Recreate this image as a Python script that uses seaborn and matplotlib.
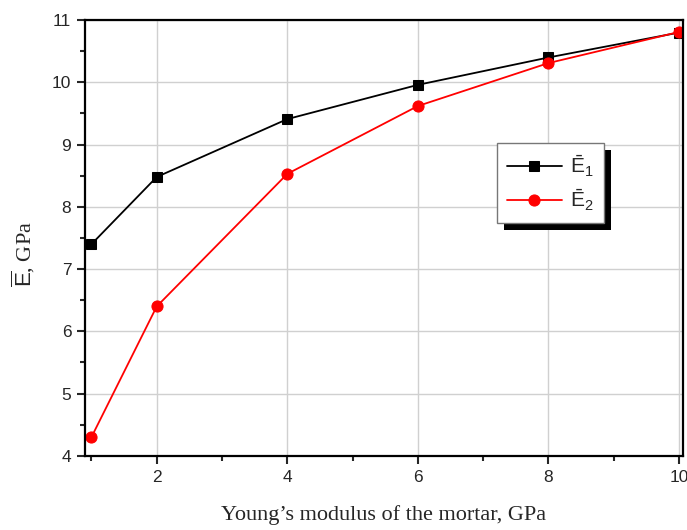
import seaborn as sns
import numpy as np
import pandas as pd
import matplotlib.pyplot as plt
import matplotlib.patheffects as pe
from matplotlib.ticker import MultipleLocator

# 데이터
modulus = [1, 2, 4, 6, 8, 10]
e1 = [7.4, 8.48, 9.41, 9.96, 10.4, 10.8]
e2 = [4.3, 6.4, 8.53, 9.62, 10.31, 10.81]

sns.set_style('ticks')
plt.rcParams['font.family'] = ['Liberation Sans', 'DejaVu Sans']
plt.rcParams['mathtext.fontset'] = 'custom'
plt.rcParams['mathtext.rm'] = 'Liberation Sans'

fig = plt.figure(figsize=(6.87, 5.3), dpi=100)
ax = fig.add_axes([0.124, 0.14, 0.87, 0.822])

df = pd.DataFrame({'x': modulus, 'e1': e1, 'e2': e2})
sns.lineplot(data=df, x='x', y='e1', ax=ax, color='black', marker='s',
             markersize=7, markeredgecolor='black', linewidth=1.3,
             label=r'$\bar{\mathrm{E}}_1$')
sns.lineplot(data=df, x='x', y='e2', ax=ax, color='red', marker='o',
             markersize=8, markeredgecolor='red', linewidth=1.3,
             label=r'$\bar{\mathrm{E}}_2$')

ax.set_xlim(0.904, 10.06)
ax.set_ylim(4, 11)
ax.set_xticks([2, 4, 6, 8, 10])
ax.xaxis.set_minor_locator(MultipleLocator(1))
ax.yaxis.set_major_locator(MultipleLocator(1))
ax.yaxis.set_minor_locator(MultipleLocator(0.5))
ax.grid(True, which='major', color='#d0d0d0', linewidth=1)
ax.tick_params(which='major', direction='out', length=6, width=1.5,
               labelsize=12.5, pad=4)
ax.tick_params(which='minor', direction='out', length=3.5, width=1.5)
for s in ax.spines.values():
    s.set_linewidth(1.6)
    s.set_color('black')

ax.set_xlabel('Young\u2019s modulus of the mortar, GPa',
              family=['Liberation Serif'], fontsize=16, labelpad=15)
ax.set_ylabel(r'$\overline{\mathrm{E}}$, GPa', family=['Liberation Serif'],
              fontsize=16)
ax.yaxis.set_label_coords(-0.08, 0.463)

leg = ax.legend(loc='upper left', bbox_to_anchor=(0.689, 0.718), fancybox=False,
                framealpha=1, edgecolor='#777777', fontsize=15, handlelength=2.6,
                handletextpad=0.4, borderpad=0.5, labelspacing=0.4,
                borderaxespad=0)
frame = leg.get_frame()
frame.set_linewidth(1)
frame.set_path_effects([
    pe.SimplePatchShadow(offset=(5, -5), shadow_rgbFace='black', alpha=1),
    pe.Normal()])

plt.savefig('out.png', dpi=100)
